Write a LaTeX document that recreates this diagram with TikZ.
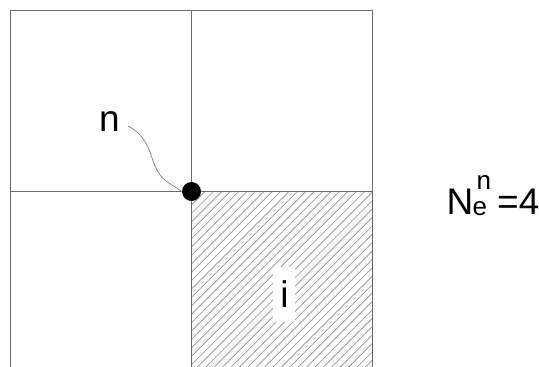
\documentclass[tikz,border=0pt]{standalone}
\usepackage{fontspec}
\setmainfont{Liberation Sans}
\definecolor{gridc}{gray}{0.42}
\definecolor{hatchc}{gray}{0.62}
\tikzset{
  gridline/.style={draw=gridc,line width=0.9pt},
  hatchline/.style={draw=hatchc,line width=0.8pt},
  dotnode/.style={circle,fill=black,inner sep=0pt,minimum size=19pt},
  bigtext/.style={inner sep=0pt,text=black,font=\fontsize{37}{37}\selectfont}
}
\begin{document}
\begin{tikzpicture}[x=1pt,y=-1pt]
\useasboundingbox (0,0) rectangle (539,367);
\fill[white] (0,0) rectangle (539,367);
\begin{scope}
\clip (191.5,191.5) rectangle (372,367);
\foreach \k in {0,1,...,50}{
  \draw[hatchline] (188.2+\k*8.4-200,391.5) -- (188.2+\k*8.4,191.5);
}
\end{scope}
\fill[white] (273,267) rectangle (295,322);
\coordinate (tl) at (10.5,10.5);
\coordinate (tm) at (191.5,10.5);
\coordinate (tr) at (372,10.5);
\coordinate (ml) at (10.5,191.5);
\coordinate (mr) at (372,191.5);
\coordinate (bl) at (10.5,367);
\coordinate (bm) at (191.5,367);
\coordinate (br) at (372,367);
\draw[gridline] (bl) -- (tl) -- (tr) -- (br);
\draw[gridline] (tm) -- (bm);
\draw[gridline] (ml) -- (mr);
\node[dotnode] (dot) at (191.5,191.5) {};
\node[bigtext,anchor=base] (nlabel) at (109.5,131.5) {n};
\node[bigtext,anchor=base] (ilabel) at (284.5,307) {i};
\coordinate (curvestart) at (128,126);
\draw[draw=gray,line width=0.7pt] (curvestart) .. controls (150,137) and (150,158) .. (157,170) .. controls (163,182) and (172,184) .. (dot.west);
\node[inner sep=0pt,anchor=base west,font=\fontsize{37}{37}\selectfont] (nsym) at (446.5,214.5) {N};
\node[inner sep=0pt,anchor=base west,font=\fontsize{26}{26}\selectfont] (esub) at (472.5,215.5) {e};
\node[inner sep=0pt,anchor=base west,font=\fontsize{26}{26}\selectfont] (nsup) at (476.5,189) {n};
\node[inner sep=0pt,anchor=base west,font=\fontsize{37}{37}\selectfont] (eq) at (497,214.5) {=4};
\end{tikzpicture}
\end{document}
